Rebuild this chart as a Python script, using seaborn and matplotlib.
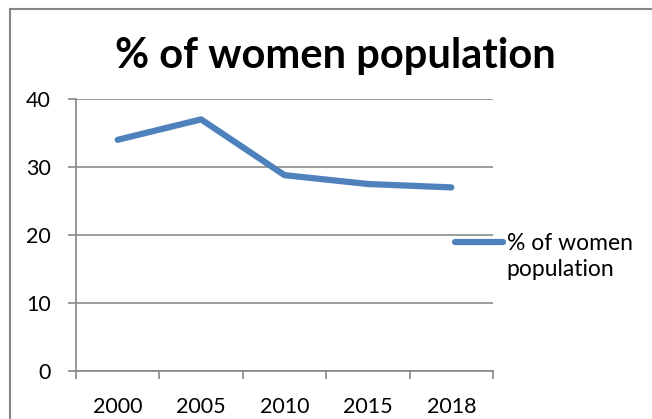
import matplotlib
matplotlib.use("Agg")
import matplotlib.pyplot as plt
import matplotlib.patches as patches
import seaborn as sns
import pandas as pd

years = ["2000", "2005", "2010", "2015", "2018"]
women_pct = [34, 37, 28.8, 27.5, 27]
y_ticks = [0, 10, 20, 30, 40]
series_name = "% of women population"

df = pd.DataFrame({"year": years, "pct": women_pct})

sns.set_style("white")
plt.rcParams["font.family"] = ["Lato", "DejaVu Sans"]
plt.rcParams["text.color"] = "black"
plt.rcParams["xtick.labelcolor"] = "black"
plt.rcParams["ytick.labelcolor"] = "black"

fig = plt.figure(figsize=(6.52, 4.19), dpi=100)
ax = fig.add_axes([76 / 652, 48 / 419, 417 / 652, 272 / 419])

sns.lineplot(data=df, x="year", y="pct", ax=ax, color="#4F81BD", linewidth=4.5,
             solid_capstyle="round", solid_joinstyle="round", sort=False)

ax.set_xlim(-0.5, len(years) - 0.5)
ax.set_ylim(0, 40)
ax.set_yticks(y_ticks)
ax.set_xticks(range(len(years)))
ax.set_xticklabels(years)
ax.set_xticks([i - 0.5 for i in range(len(years) + 1)], minor=True)
ax.tick_params(axis="x", which="major", bottom=True, length=0, pad=19, labelsize=15.5)
ax.tick_params(axis="x", which="minor", bottom=True, length=6, width=1.2,
               color="#868686", direction="out")
ax.tick_params(axis="y", left=True, length=6, width=1.2, color="#868686",
               direction="out", pad=12, labelsize=15.5)
ax.yaxis.grid(True, color="#8C8C8C", linewidth=1.2)
ax.set_axisbelow(True)
ax.set_xlabel("")
ax.set_ylabel("")
for s in ["top", "right"]:
    ax.spines[s].set_visible(False)
for s in ["left", "bottom"]:
    ax.spines[s].set_color("#868686")
    ax.spines[s].set_linewidth(1.2)

# legend on the right, wrapped label like the original
handle = ax.get_lines()[0]
first, second = series_name.rsplit(" ", 1)
leg = fig.legend([handle], [first], loc="upper left",
                 bbox_to_anchor=(446 / 652, 1 - 224 / 419), frameon=False,
                 fontsize=16.5, handlelength=2.1, handletextpad=0.15,
                 borderaxespad=0)
fig.text(506 / 652, 1 - 270 / 419, second, ha="left", va="center", fontsize=16.5)

fig.text(335 / 652, 1 - 56 / 419, series_name, ha="center", va="center",
         fontsize=30, fontweight="bold")

# chart frame
fig.patches.append(patches.Rectangle((10 / 652, -0.1), 1.2, 1 - 9 / 419 + 0.1,
                                     transform=fig.transFigure, fill=False,
                                     edgecolor="#868686", linewidth=1.5))

fig.savefig("out.png", dpi=100)
